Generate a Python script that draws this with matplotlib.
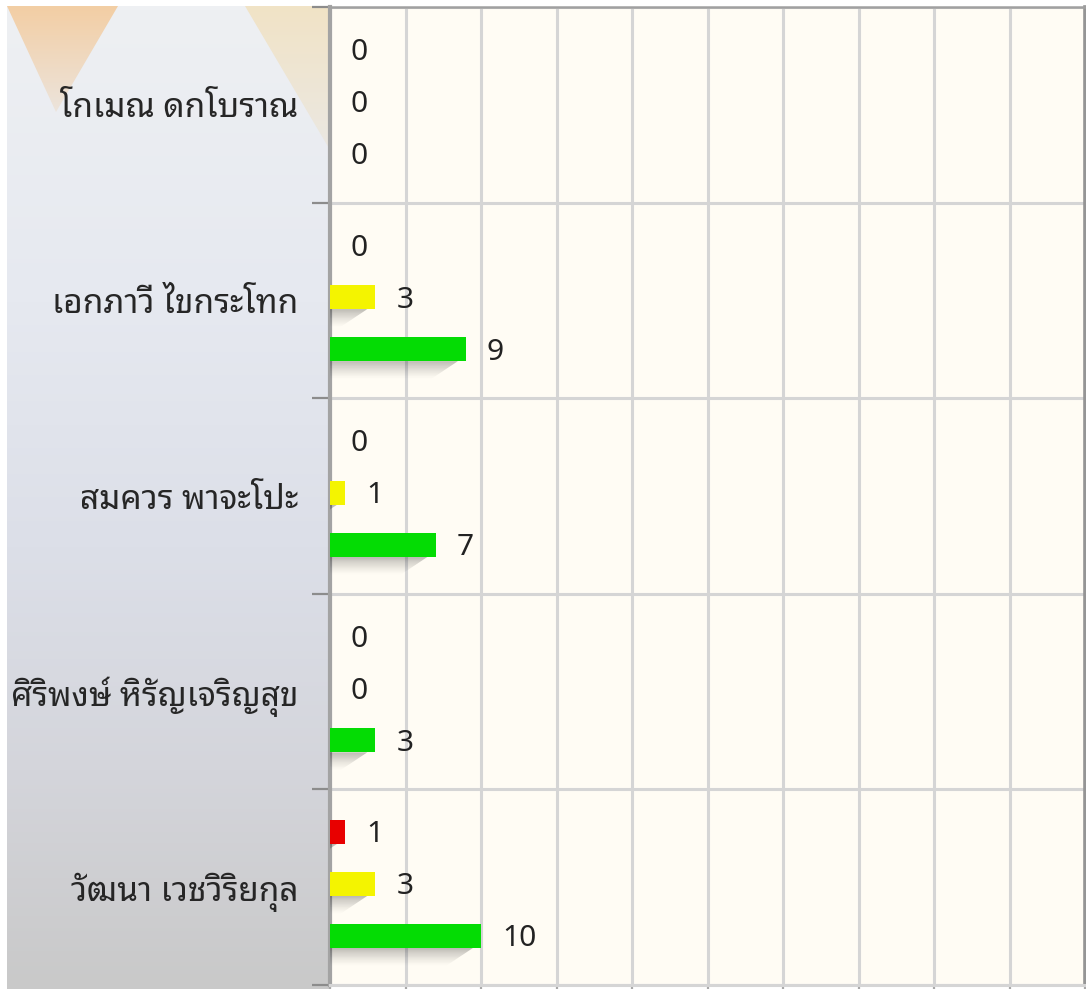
import numpy as np
import matplotlib
matplotlib.use("Agg")
import matplotlib.pyplot as plt
from matplotlib import font_manager
from matplotlib.patches import Polygon
from matplotlib.colors import LinearSegmentedColormap, to_rgb

# ---- data -------------------------------------------------------------
names = ["โกเมณ ดกโบราณ", "เอกภาวี ไขกระโทก", "สมควร พาจะโปะ",
         "ศิริพงษ์ หิรัญเจริญสุข", "วัฒนา เวชวิริยกุล"]
red_vals = [0, 0, 0, 0, 1]
yellow_vals = [0, 3, 1, 0, 3]
green_vals = [0, 9, 7, 3, 10]
x_max = 50
x_step = 5

series = [red_vals, yellow_vals, green_vals]
series_colors = ["#e80000", "#f4f400", "#04dc04"]

# ---- fonts ------------------------------------------------------------
available = {f.name for f in font_manager.fontManager.ttflist}
thai_font = next((n for n in ["Noto Sans Thai Looped", "Noto Sans Thai", "Sarabun"]
                  if n in available), "DejaVu Sans")
plt.rcParams["font.family"] = ["Noto Sans", thai_font, "DejaVu Sans"]

W, H = 1086, 989
fig = plt.figure(figsize=(W / 100, H / 100), dpi=100, facecolor="white")

# ---- decorative left panel -------------------------------------------
px0, px1, py0, py1 = 7, 330, 6, 989
panel = fig.add_axes([px0 / W, 0, (px1 - px0) / W, (py1 - py0) / H], zorder=0)
panel.set_xlim(px0, px1)
panel.set_ylim(py1, py0)
panel.axis("off")
grad = LinearSegmentedColormap.from_list(
    "panel", [(0.0, "#eef0f3"), (0.3, "#e6e9f0"), (0.55, "#dcdfe8"),
              (0.78, "#d4d5db"), (1.0, "#c9c9c9")])
panel.imshow(np.linspace(0, 1, 256)[:, None], cmap=grad, aspect="auto",
             extent=(px0, px1, py1, py0), zorder=0)


def tri_gradient(verts, c_top, c_bot, y_top, y_bot):
    ctop, cbot = np.array(to_rgb(c_top)), np.array(to_rgb(c_bot))
    t = np.linspace(0, 1, 128)[:, None]
    img = (ctop * (1 - t) + cbot * t)[:, None, :]
    im = panel.imshow(img, aspect="auto", extent=(px0, px1, y_bot, y_top), zorder=1)
    poly = Polygon(verts, closed=True, transform=panel.transData,
                   facecolor="none", edgecolor="none")
    panel.add_patch(poly)
    im.set_clip_path(poly)


tri_gradient([(7, 6), (118, 6), (56, 112)], "#f3cea4", "#ece4dc", 6, 112)
tri_gradient([(245, 6), (420, 6), (330, 150)], "#f1e3c6", "#ebe8e2", 6, 150)

# ---- main chart -------------------------------------------------------
ax = fig.add_axes([330 / W, 4 / H, 755 / W, 978 / H], zorder=2)
ax.set_facecolor("#fffcf4")
n = len(names)
ax.set_xlim(0, x_max)
ax.set_ylim(n - 0.5, -0.5)

px_x = x_max / 755.0        # data units per pixel (x)
px_y = 1.0 / 195.6          # data units per pixel (y)

offsets = [-0.283, -0.017, 0.249]
bar_h = 0.123
ycent = np.arange(n)

for vals, off, col in zip(series, offsets, series_colors):
    ypos = ycent + off
    ax.barh(ypos, vals, height=bar_h, color=col, zorder=4)
    for y, v in zip(ypos, vals):
        if v > 0:
            # soft slanted drop shadow under each bar
            yb = y + bar_h / 2
            nl, depth = 16, 18.0
            for i in range(nl):
                d0, d1 = i * depth / nl, (i + 1) * depth / nl
                x_top = max(v - (8 + d0 * 1.5) * px_x, 0)
                x_bot = max(v - (8 + d1 * 1.5) * px_x, 0)
                a = 0.26 * (1 - i / nl) ** 1.4
                ax.add_patch(Polygon(
                    [(0, yb + d0 * px_y), (x_top, yb + d0 * px_y),
                     (x_bot, yb + d1 * px_y), (0, yb + d1 * px_y)],
                    closed=True, facecolor="black", edgecolor="none",
                    alpha=a, zorder=3))
        ax.annotate(str(v), xy=(v, y), xytext=(15.1, -2.2), textcoords="offset points",
                    ha="left", va="center", fontsize=21.5, color="#222222", zorder=5)

# grid and ticks
ax.set_xticks(np.arange(0, x_max + 1, x_step))
ax.set_yticks(np.arange(-0.5, n, 1.0))
ax.set_yticks(ycent, minor=True)
ax.set_yticklabels(names, minor=True, fontsize=24, color="#262626",
                   family=[thai_font, "DejaVu Sans"])
ax.set_xticklabels([])
ax.set_yticklabels([])
ax.tick_params(axis="y", which="minor", length=0, pad=23)
ax.tick_params(axis="y", which="major", length=13, width=1.6, color="#8c8c8c",
               direction="out")
ax.tick_params(axis="x", which="major", length=5, width=1.6, color="#a8a8a8",
               direction="out")
ax.grid(True, which="major", color="#d5d5d5", linewidth=2.2, zorder=1)
ax.set_axisbelow(True)

ax.spines["left"].set_color("#a3a3a3")
ax.spines["left"].set_linewidth(3.0)
ax.spines["top"].set_color("#a0a0a0")
ax.spines["top"].set_linewidth(1.8)
ax.spines["right"].set_color("#959595")
ax.spines["right"].set_linewidth(2.6)
ax.spines["bottom"].set_color("#d5d5d5")
ax.spines["bottom"].set_linewidth(2.2)

fig.savefig("out.png", dpi=100, facecolor="white")
